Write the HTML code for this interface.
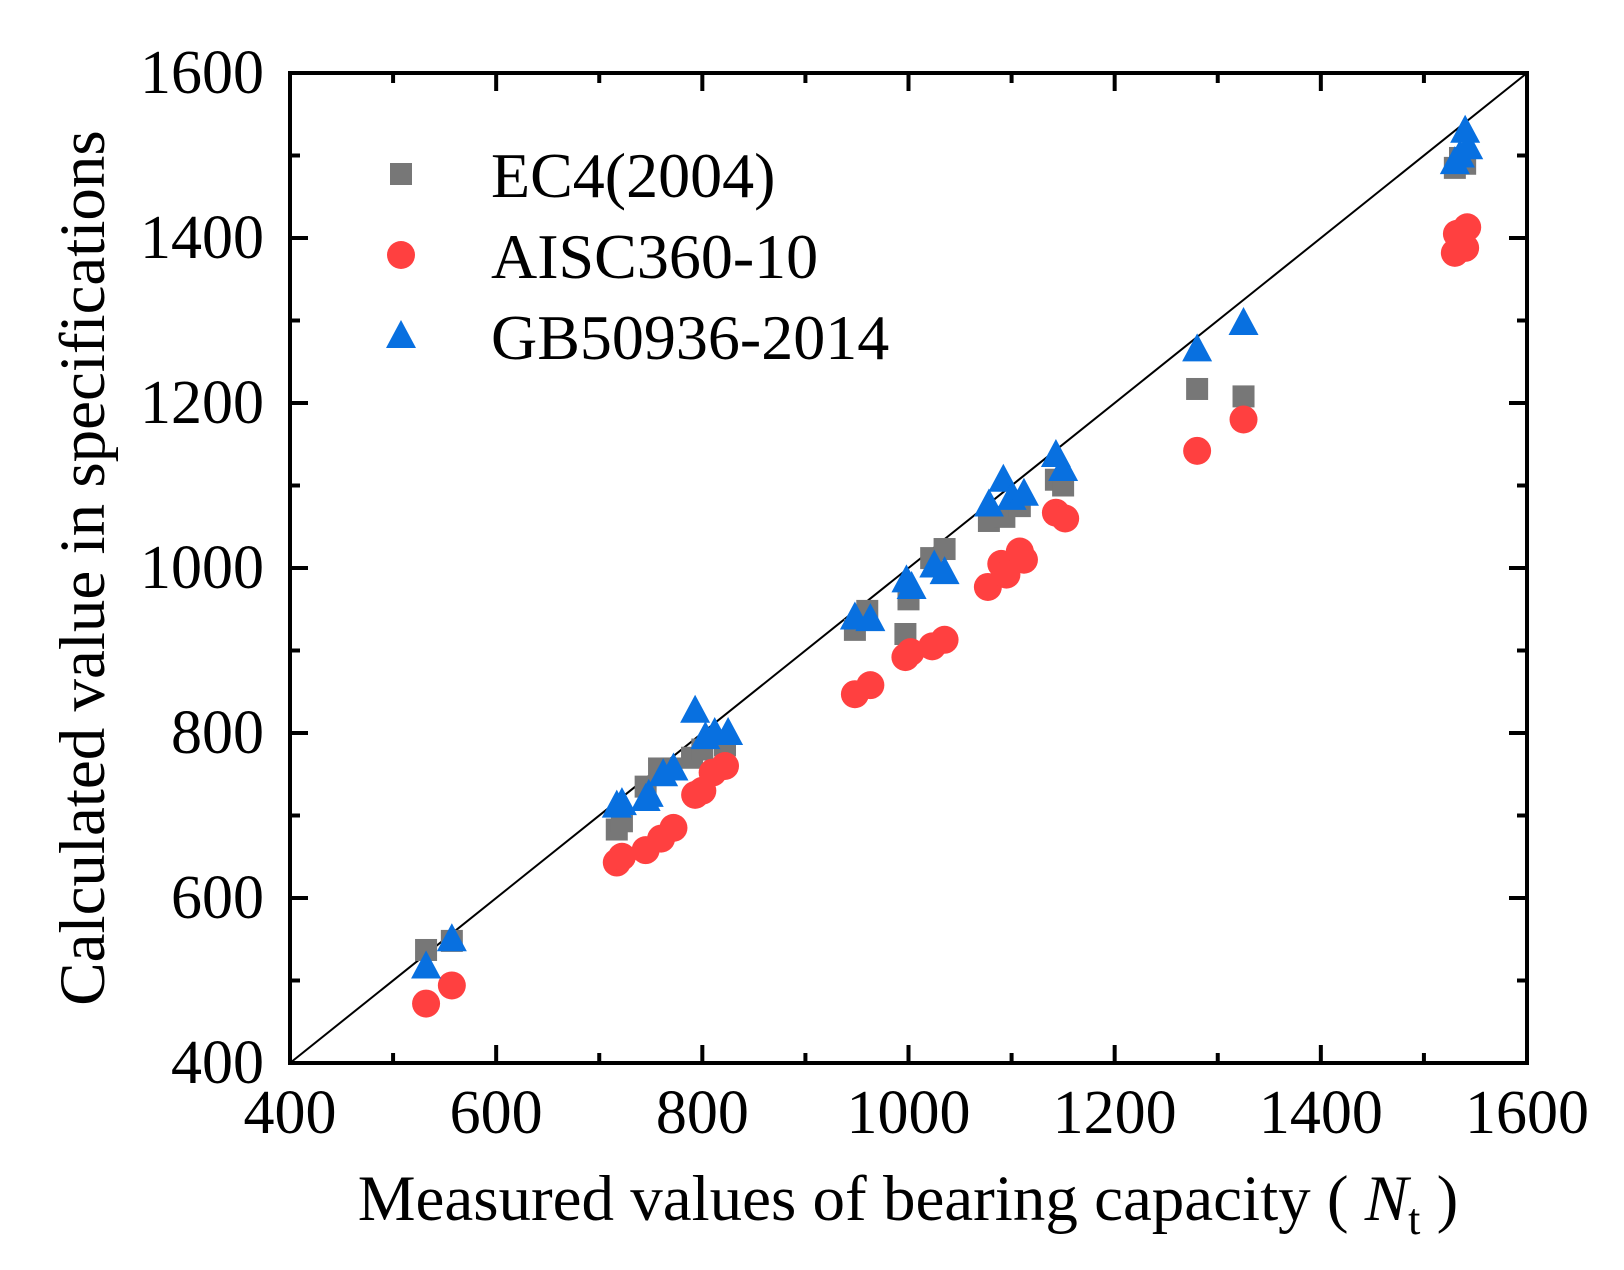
<!DOCTYPE html>
<html><head><meta charset="utf-8"><style>
html,body{margin:0;padding:0;background:#fff}
svg{display:block;font-family:"Liberation Serif",serif}
</style></head><body>
<svg id="chart" width="1624" height="1270" viewBox="0 0 1624 1270">
<g id="plot"></g>
</svg>
<script>
const ec4X=[532,557,717,722,745,758,770,790,800,822,948,960,997,1000,1022,1035,1078,1093,1108,1143,1150,1280,1325,1530,1535,1540];
const ec4Y=[537,548,683,693,735,757,757,770,780,785,925,948,920,962,1012,1023,1057,1062,1075,1107,1100,1217,1208,1485,1497,1490];
const aiscX=[532,557,717,722,745,760,772,793,800,810,822,948,963,997,1002,1023,1035,1077,1090,1095,1108,1112,1143,1152,1280,1325,1530,1532,1540,1542];
const aiscY=[472,494,643,650,658,672,685,725,730,752,760,847,858,892,898,905,913,977,1005,992,1020,1010,1067,1060,1142,1180,1382,1405,1388,1413];
const gbX=[532,557,717,722,745,748,762,772,793,803,812,825,948,963,998,1003,1025,1035,1078,1092,1100,1112,1143,1150,1280,1325,1530,1535,1540,1543];
const gbY=[517,550,712,715,720,725,750,757,827,795,800,800,940,938,985,977,1003,995,1077,1107,1085,1090,1137,1120,1265,1297,1492,1500,1530,1510];
const majorTicks=[400,600,800,1000,1200,1400,1600];
const minorTicks=[500,700,900,1100,1300,1500];

const L=290,R=1527,T=73,B=1063;
const sx=v=>L+(v-400)/1200*(R-L);
const sy=v=>B-(v-400)/1200*(B-T);
const NS="http://www.w3.org/2000/svg";
const svg=document.getElementById('chart');
const g=document.getElementById('plot');
function mk(tag,attrs,parent){const e=document.createElementNS(NS,tag);for(const k in attrs)e.setAttribute(k,attrs[k]);(parent||g).appendChild(e);return e;}

let d=mk('line',{x1:sx(400),y1:sy(400),x2:sx(1600),y2:sy(1600),stroke:'#000','stroke-width':2});



function square(x,y,p){return mk('rect',{x:x-11,y:y-11,width:22,height:22,fill:'#777777'},p);}
function circle(x,y,p){return mk('circle',{cx:x,cy:y,r:14,fill:'#ff4040'},p);}
function tri(x,y,p){return mk('polygon',{points:`${x},${y-16} ${x-15},${y+12} ${x+15},${y+12}`,fill:'#0870e0'},p);}

ec4X.forEach((v,i)=>{const e=square(sx(v),sy(ec4Y[i]));

});
aiscX.forEach((v,i)=>{const e=circle(sx(v),sy(aiscY[i]));

});
gbX.forEach((v,i)=>{const e=tri(sx(v),sy(gbY[i]));

});

let fr=mk('rect',{x:L,y:T,width:R-L,height:B-T,fill:'none',stroke:'#000','stroke-width':4},svg);



function ticks(vals,len){vals.forEach(v=>{
 const x=sx(v),y=sy(v);
 [[x,B,x,B-len],[x,T,x,T+len],[L,y,L+len,y],[R,y,R-len,y]].forEach(c=>{
  const t=mk('line',{x1:c[0],y1:c[1],x2:c[2],y2:c[3],stroke:'#000','stroke-width':4},svg);
  
  });
});}
ticks(majorTicks,18);ticks(minorTicks,10);

majorTicks.forEach(v=>{
 const tx=mk('text',{x:sx(v),y:1133,'font-size':62,'text-anchor':'middle'},svg);tx.textContent=v;
 
 
 const ty=mk('text',{x:264,y:sy(v)+20,'font-size':62,'text-anchor':'end'},svg);ty.textContent=v;
 
 
});

const leg=mk('g',{},svg);


const names=['EC4(2004)','AISC360-10','GB50936-2014'];
const fns=[square,circle,tri];
names.forEach((n,i)=>{
 const y=174+i*81;
 const m=fns[i](401,y,leg);
 
 
 const t=mk('text',{x:491,y:y+23,'font-size':64},leg);t.textContent=n;
 
 
});
</script>
<svg style="position:absolute;left:0;top:0" width="1624" height="1270">
<text x="908" y="1220" font-size="65" text-anchor="middle" font-family="Liberation Serif, serif">Measured values of bearing capacity ( <tspan font-style="italic">N</tspan><tspan font-size="44" dy="14">t</tspan><tspan dy="-14"> )</tspan></text>
<text transform="translate(104,568) rotate(-90)" font-size="65" text-anchor="middle" font-family="Liberation Serif, serif">Calculated value in specifications</text>
</svg>
</body></html>
